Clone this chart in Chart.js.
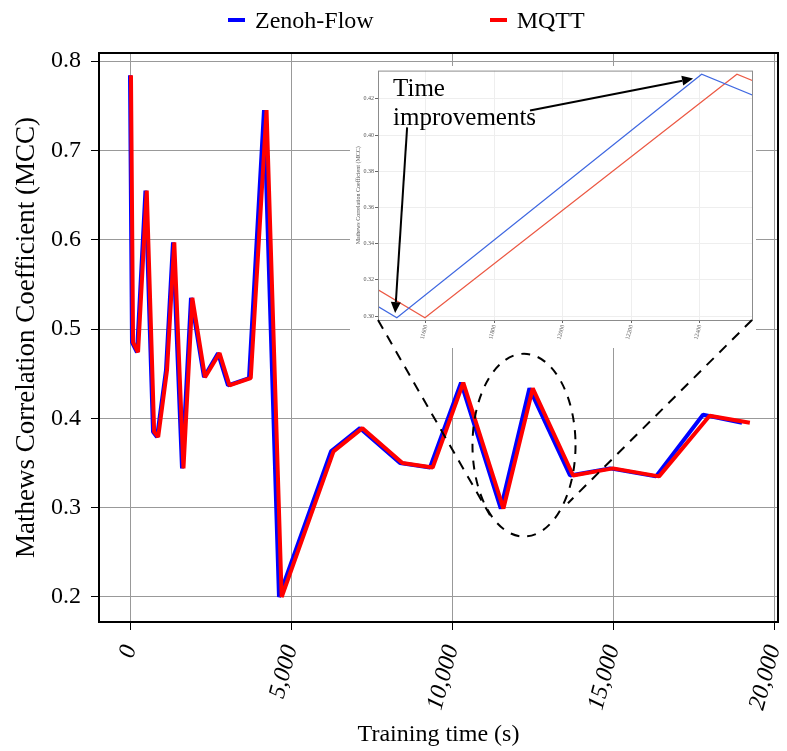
<!DOCTYPE html>
<html>
<head>
<meta charset="utf-8">
<script src="https://cdn.jsdelivr.net/npm/chart.js@4.4.0/dist/chart.umd.min.js"></script>
<style>
  html, body { margin: 0; padding: 0; background: #fff; }
  #wrap { position: relative; width: 787px; height: 751px; }
  #main { position: absolute; left: 0; top: 0; z-index: 1; }
  #inset { position: absolute; left: 350px; top: 66px; z-index: 0; background: #fff; }
  #legend { position: absolute; top: 6px; left: 228px; z-index: 2; display: flex;
            font-family: 'Liberation Serif', 'Times New Roman', serif; font-size: 24px; line-height: 28px; }
  .item { display: flex; align-items: center; margin-right: 116px; }
  .swatch { width: 17px; height: 4px; margin-right: 10px; }
</style>
</head>
<body>
<div id="wrap">
  <div id="legend"></div>
  <canvas id="inset" width="406" height="282"></canvas>
  <canvas id="main" width="787" height="751"></canvas>
</div>
<script>
// training time (s) and MCC for each run
const zenohTime = [0, 62, 217, 480, 714, 839, 1118, 1335, 1615, 1894, 2298, 2733, 3043, 3696, 4161, 4627, 6242, 7143, 8385, 9317, 10280, 11515, 12405, 13665, 14907, 16335, 17795, 19006];
const zenohMcc = [0.784, 0.485, 0.474, 0.655, 0.385, 0.379, 0.454, 0.597, 0.344, 0.535, 0.446, 0.473, 0.437, 0.445, 0.745, 0.2, 0.363, 0.389, 0.35, 0.345, 0.44, 0.299, 0.4336, 0.336, 0.344, 0.335, 0.404, 0.395];
const mqttTime = [30, 95, 250, 520, 750, 875, 1150, 1375, 1660, 1935, 2330, 2780, 3090, 3750, 4240, 4710, 6320, 7220, 8460, 9400, 10350, 11597, 12508, 13760, 15000, 16430, 18000, 19250];
const mqttMcc = [0.784, 0.485, 0.474, 0.655, 0.385, 0.379, 0.454, 0.597, 0.344, 0.535, 0.446, 0.473, 0.437, 0.445, 0.745, 0.2, 0.363, 0.389, 0.35, 0.345, 0.44, 0.299, 0.4336, 0.336, 0.344, 0.335, 0.403, 0.395];

const seriesNames = ['Zenoh-Flow', 'MQTT'];
const seriesColors = ['#0000ff', '#ff0000'];
const insetColors = ['#4169e1', '#ec5a45'];

// axis ticks
const xTicks = [0, 5000, 10000, 15000, 20000];
const yTicks = [0.2, 0.3, 0.4, 0.5, 0.6, 0.7, 0.8];
const insetXTicks = [11600, 11800, 12000, 12200, 12400];
const insetYTicks = [0.30, 0.32, 0.34, 0.36, 0.38, 0.40, 0.42];

// zoomed window shown in the inset
const insetX = [11460, 12552];
const insetY = [0.2978, 0.4356];
// dashed ellipse round the zoomed part (centre, radii in data units)
const ringCentre = [12236, 0.370];
const ringRadius = [1600, 0.1023];
// where the dashed connectors meet the ellipse
const linkEnds = [[11180, 0.2915], [13600, 0.305]];
// inset annotation
const noteLines = ['Time', 'improvements'];
const noteAt = [[11504, 0.4218], [11504, 0.4053]];
const arrowFrom = [[11904, 0.4136], [11545, 0.4042]];
const arrowTo = [[12380, 0.4312], [11510, 0.3016]];

const serif = "'Liberation Serif', 'Times New Roman', serif";

function points(xs, ys) {
    return xs.map((t, i) => ({x: t, y: ys[i]}));
}

function fixTicks(values) {
    return s => { s.ticks = values.map(v => ({value: v})); };
}

// legend above the plot
let legend = document.getElementById('legend');
seriesNames.forEach((name, i) => {
    legend.innerHTML += `<div class="item"><span class="swatch" style="background:${seriesColors[i]}"></span><span>${name}</span></div>`;
});

function drawArrow(ctx, x0, y0, x1, y1) {
    let ang = Math.atan2(y1 - y0, x1 - x0);
    let head = 11, half = 5;
    let bx = x1 - head * Math.cos(ang), by = y1 - head * Math.sin(ang);
    ctx.beginPath();
    ctx.moveTo(x0, y0);
    ctx.lineTo(bx, by);
    ctx.stroke();
    ctx.beginPath();
    ctx.moveTo(x1, y1);
    ctx.lineTo(bx + half * Math.sin(ang), by - half * Math.cos(ang));
    ctx.lineTo(bx - half * Math.sin(ang), by + half * Math.cos(ang));
    ctx.closePath();
    ctx.fill();
}

const insetDecor = {
    id: 'insetDecor',
    afterDraw(chart) {
        const {ctx, chartArea: a, scales: {x, y}} = chart;
        ctx.save();
        ctx.strokeStyle = '#8c8c8c';
        ctx.lineWidth = 1;
        ctx.strokeRect(a.left + 0.5, a.top + 0.5, a.right - a.left, a.bottom - a.top);
        ctx.fillStyle = '#000';
        ctx.font = '25px ' + serif;
        ctx.textBaseline = 'alphabetic';
        noteLines.forEach((t, i) => {
            ctx.fillText(t, x.getPixelForValue(noteAt[i][0]), y.getPixelForValue(noteAt[i][1]));
        });
        ctx.strokeStyle = '#000';
        ctx.lineWidth = 2;
        arrowFrom.forEach((p, i) => {
            drawArrow(ctx, x.getPixelForValue(p[0]), y.getPixelForValue(p[1]),
                x.getPixelForValue(arrowTo[i][0]), y.getPixelForValue(arrowTo[i][1]));
        });
        ctx.restore();
    }
};

let insetCanvas = document.getElementById('inset');
const insetChart = new Chart(insetCanvas, {
    type: 'line',
    data: {
        datasets: [{
            label: seriesNames[0],
            data: points(zenohTime, zenohMcc),
            borderColor: insetColors[0],
            borderWidth: 1.2,
            pointRadius: 0
        },
        {
            label: seriesNames[1],
            data: points(mqttTime, mqttMcc),
            borderColor: insetColors[1],
            borderWidth: 1.2,
            pointRadius: 0
        }]
    },
    options: {
        responsive: false,
        animation: false,
        layout: {padding: {top: 4, right: 4, left: 0, bottom: 0}},
        plugins: {legend: {display: false}, tooltip: {enabled: false}},
        scales: {
            x: {
                type: 'linear',
                min: insetX[0],
                max: insetX[1],
                afterBuildTicks: fixTicks(insetXTicks),
                ticks: {
                    minRotation: 75, maxRotation: 75,
                    padding: 1, color: '#555', font: {family: serif, size: 6},
                    callback: v => String(v)
                },
                grid: {color: '#eeeeee', tickColor: '#666', tickLength: 3},
                border: {display: false},
                afterFit(s) { s.height = 28; s.paddingLeft = 0; s.paddingRight = 0; }
            },
            y: {
                min: insetY[0],
                max: insetY[1],
                afterBuildTicks: fixTicks(insetYTicks),
                ticks: {
                    padding: 1, color: '#555',
                    font: {family: serif, size: 6},
                    callback: v => v.toFixed(2)
                },
                grid: {color: '#eeeeee', tickColor: '#666', tickLength: 3},
                border: {display: false},
                title: {
                    display: true, text: 'Mathews Correlation Coefficient (MCC)', color: '#555',
                    font: {family: serif, size: 6}, padding: {top: 5, bottom: 0}
                },
                afterFit(s) { s.width = 28; }
            }
        }
    },
    plugins: [insetDecor]
});

const mainDecor = {
    id: 'mainDecor',
    beforeDatasetsDraw(chart) {
        // let the inset (sitting under this canvas) show through
        chart.ctx.clearRect(insetCanvas.offsetLeft, insetCanvas.offsetTop, insetCanvas.width, insetCanvas.height);
    },
    afterDatasetsDraw(chart) {
        const {ctx, chartArea: a, scales: {x, y}} = chart;
        ctx.save();
        ctx.strokeStyle = '#000';
        ctx.lineWidth = 2;
        ctx.strokeRect(a.left, a.top, a.right - a.left, a.bottom - a.top);

        ctx.setLineDash([9, 8]);
        let cx = x.getPixelForValue(ringCentre[0]);
        let cy = y.getPixelForValue(ringCentre[1]);
        let rx = x.getPixelForValue(ringCentre[0] + ringRadius[0]) - cx;
        let ry = cy - y.getPixelForValue(ringCentre[1] + ringRadius[1]);
        ctx.beginPath();
        ctx.ellipse(cx, cy, rx, ry, 0, 0, Math.PI * 2);
        ctx.stroke();

        // connectors from the inset's lower corners
        let ia = insetChart.chartArea;
        let ox = insetCanvas.offsetLeft, oy = insetCanvas.offsetTop;
        let corners = [[ox + ia.left, oy + ia.bottom], [ox + ia.right, oy + ia.bottom]];
        ctx.setLineDash([10, 8]);
        corners.forEach((c, i) => {
            ctx.beginPath();
            ctx.moveTo(c[0], c[1]);
            ctx.lineTo(x.getPixelForValue(linkEnds[i][0]), y.getPixelForValue(linkEnds[i][1]));
            ctx.stroke();
        });
        ctx.restore();
    }
};

const mainChart = new Chart(document.getElementById('main'), {
    type: 'line',
    data: {
        datasets: [{
            label: seriesNames[0],
            data: points(zenohTime, zenohMcc),
            borderColor: seriesColors[0],
            borderWidth: 4,
            borderJoinStyle: 'bevel',
            pointRadius: 0,
            order: 1
        },
        {
            // MQTT drawn over Zenoh-Flow
            label: seriesNames[1],
            data: points(mqttTime, mqttMcc),
            borderColor: seriesColors[1],
            borderWidth: 4,
            borderJoinStyle: 'bevel',
            pointRadius: 0,
            order: 0
        }]
    },
    options: {
        responsive: false,
        animation: false,
        layout: {padding: {top: 53, right: 9, left: 0, bottom: 0}},
        plugins: {legend: {display: false}, tooltip: {enabled: false}},
        scales: {
            x: {
                type: 'linear',
                min: -963,
                max: 20124,
                afterBuildTicks: fixTicks(xTicks),
                ticks: {
                    minRotation: 75, maxRotation: 75,
                    padding: 12, color: '#000', font: {family: serif, size: 24, style: 'italic'},
                    callback: v => v.toLocaleString('en-US')
                },
                grid: {color: '#999', tickColor: '#000', tickLength: 8},
                border: {color: '#000', width: 2},
                title: {
                    display: true, text: 'Training time (s)', color: '#000',
                    font: {family: serif, size: 24}, padding: {top: 0, bottom: 2}
                },
                afterFit(s) { s.height = 129; s.paddingLeft = 0; s.paddingRight = 0; }
            },
            y: {
                min: 0.172,
                max: 0.809,
                afterBuildTicks: fixTicks(yTicks),
                ticks: {
                    padding: 10, color: '#000',
                    font: {family: serif, size: 24},
                    callback: v => v.toFixed(1)
                },
                grid: {color: '#999', tickColor: '#000', tickLength: 8},
                border: {color: '#000', width: 2},
                title: {
                    display: true, text: 'Mathews Correlation Coefficient (MCC)', color: '#000',
                    font: {family: serif, size: 27}, padding: {top: 11, bottom: 0}
                },
                afterFit(s) { s.width = 99; }
            }
        }
    },
    plugins: [mainDecor]
});
</script>
</body>
</html>
